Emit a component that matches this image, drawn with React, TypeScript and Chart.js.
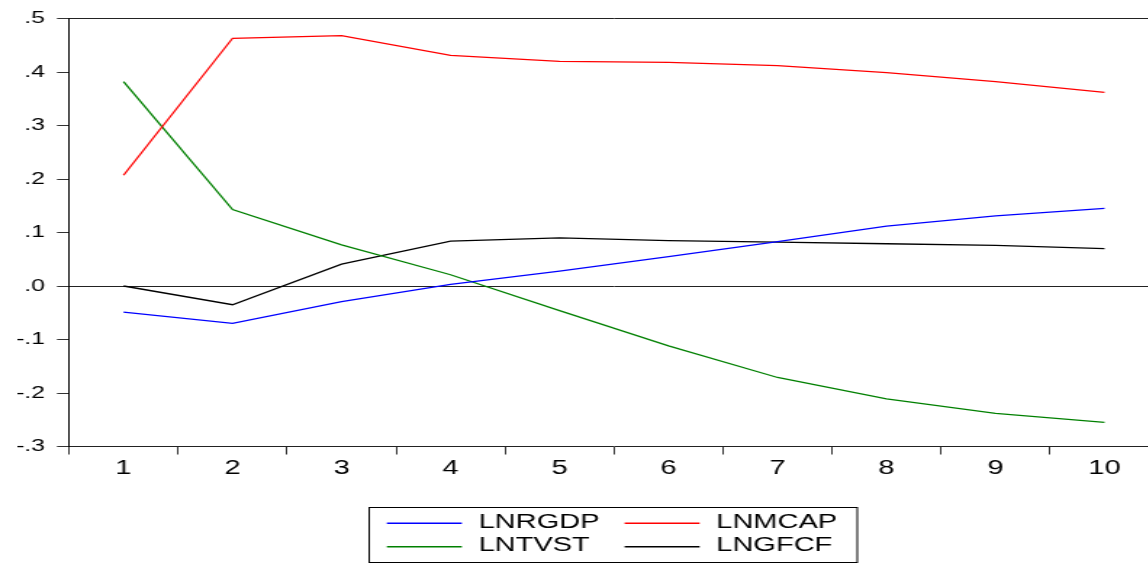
import { useEffect, useRef } from 'react';
import { Chart, registerables } from 'chart.js';

Chart.register(...registerables);

// ---- data ----
const periods = ['1', '2', '3', '4', '5', '6', '7', '8', '9', '10'];
const seriesNames = ['LNRGDP', 'LNMCAP', 'LNTVST', 'LNGFCF'];
const seriesColors = ['#0000ff', '#ff0000', '#008000', '#000000'];
const lnrgdp = [-0.049, -0.070, -0.029, 0.003, 0.028, 0.055, 0.083, 0.112, 0.131, 0.145];
const lnmcap = [0.207, 0.463, 0.468, 0.431, 0.420, 0.418, 0.412, 0.399, 0.382, 0.362];
const lntvst = [0.382, 0.143, 0.077, 0.021, -0.046, -0.112, -0.171, -0.211, -0.238, -0.255];
const lngfcf = [0.000, -0.035, 0.041, 0.084, 0.090, 0.085, 0.082, 0.079, 0.076, 0.070];
const yMin = -0.3;
const yMax = 0.5;
const yStep = 0.1;

// ---- layout ----
const STRETCH = 1.45;
const W = 799;
const H = 563;
const FONT = '"Liberation Sans", Arial, Helvetica, sans-serif';

const fmtY = (v: number) => {
  if (Math.abs(v) < 1e-9) return '.0';
  return Number(v).toFixed(1).replace(/^(-?)0\./, '$1.');
};

const decorPlugin = {
  id: 'decor',
  afterDraw(chart: any) {
    const { ctx, chartArea } = chart;
    ctx.save();
    // top frame line
    ctx.strokeStyle = '#222';
    ctx.lineWidth = 1;
    ctx.beginPath();
    ctx.moveTo(chartArea.left, chartArea.top);
    ctx.lineTo(chartArea.right, chartArea.top);
    ctx.stroke();

    // legend box
    const bx = 254.5;
    const by = 507;
    const bw = 336.5;
    const bh = 55;
    ctx.strokeStyle = '#000';
    ctx.lineWidth = 1;
    ctx.strokeRect(bx, by + 0.5, bw, bh);
    const colX = [266.7, 430.6];
    const rowY = [523.3, 546.7];
    ctx.font = `20px ${FONT}`;
    ctx.textBaseline = 'middle';
    ctx.textAlign = 'left';
    chart.data.datasets.forEach((ds: any, i: number) => {
      const x = colX[i % 2];
      const y = rowY[Math.floor(i / 2)];
      ctx.strokeStyle = ds.borderColor;
      ctx.lineWidth = 1.4;
      ctx.beginPath();
      ctx.moveTo(x, y);
      ctx.lineTo(x + 51.7, y);
      ctx.stroke();
      ctx.fillStyle = '#000';
      ctx.fillText(ds.label, x + 63.2, y - 0.8);
    });
    ctx.restore();
  },
};

export default function App() {
  const ref = useRef<HTMLCanvasElement | null>(null);

  useEffect(() => {
    if (!ref.current) return;
    const values = [lnrgdp, lnmcap, lntvst, lngfcf];
    const chart = new Chart(ref.current, {
      type: 'line',
      data: {
        labels: periods,
        datasets: seriesNames.map((name, i) => ({
          label: name,
          data: values[i],
          borderColor: seriesColors[i],
          backgroundColor: seriesColors[i],
          borderWidth: 1.3,
          pointRadius: 0,
          tension: 0,
          fill: false,
        })),
      },
      options: {
        responsive: false,
        animation: false,
        devicePixelRatio: 1,
        layout: { padding: { top: 16.5, left: 0, right: 0, bottom: 0 } },
        plugins: {
          legend: { display: false },
          tooltip: { enabled: false },
        },
        scales: {
          x: {
            type: 'category',
            offset: true,
            grid: {
              offset: true,
              drawOnChartArea: false,
              tickLength: 8,
              tickColor: '#333',
              lineWidth: 1,
            },
            border: { display: true, color: '#222', width: 1 },
            ticks: {
              color: '#000',
              font: { family: FONT, size: 20 },
              padding: 2,
              maxRotation: 0,
              autoSkip: false,
            },
            afterFit(scale: any) {
              scale.height = H - 446.5;
            },
          },
          y: {
            min: yMin,
            max: yMax,
            grid: {
              drawOnChartArea: true,
              color: (c: any) =>
                c.tick && Math.abs(c.tick.value) < 1e-9 ? '#222' : 'rgba(0,0,0,0)',
              tickColor: '#333',
              tickLength: 8.3,
              lineWidth: 1,
            },
            border: { display: true, color: '#000', width: 1 },
            ticks: {
              stepSize: yStep,
              color: '#000',
              font: { family: FONT, size: 17 },
              padding: 8.3,
              callback: (v: any) => fmtY(Number(v)),
            },
            afterFit(scale: any) {
              scale.width = 47.6;
            },
          },
        },
      },
      plugins: [decorPlugin],
    });
    return () => chart.destroy();
  }, []);

  return (
    <div
      style={{
        position: 'fixed',
        left: 0,
        top: 0,
        width: 1148,
        height: 563,
        overflow: 'hidden',
        background: '#fff',
      }}
    >
      <canvas
        ref={ref}
        width={W}
        height={H}
        style={{ width: `${W * STRETCH}px`, height: `${H}px`, display: 'block' }}
      />
    </div>
  );
}
